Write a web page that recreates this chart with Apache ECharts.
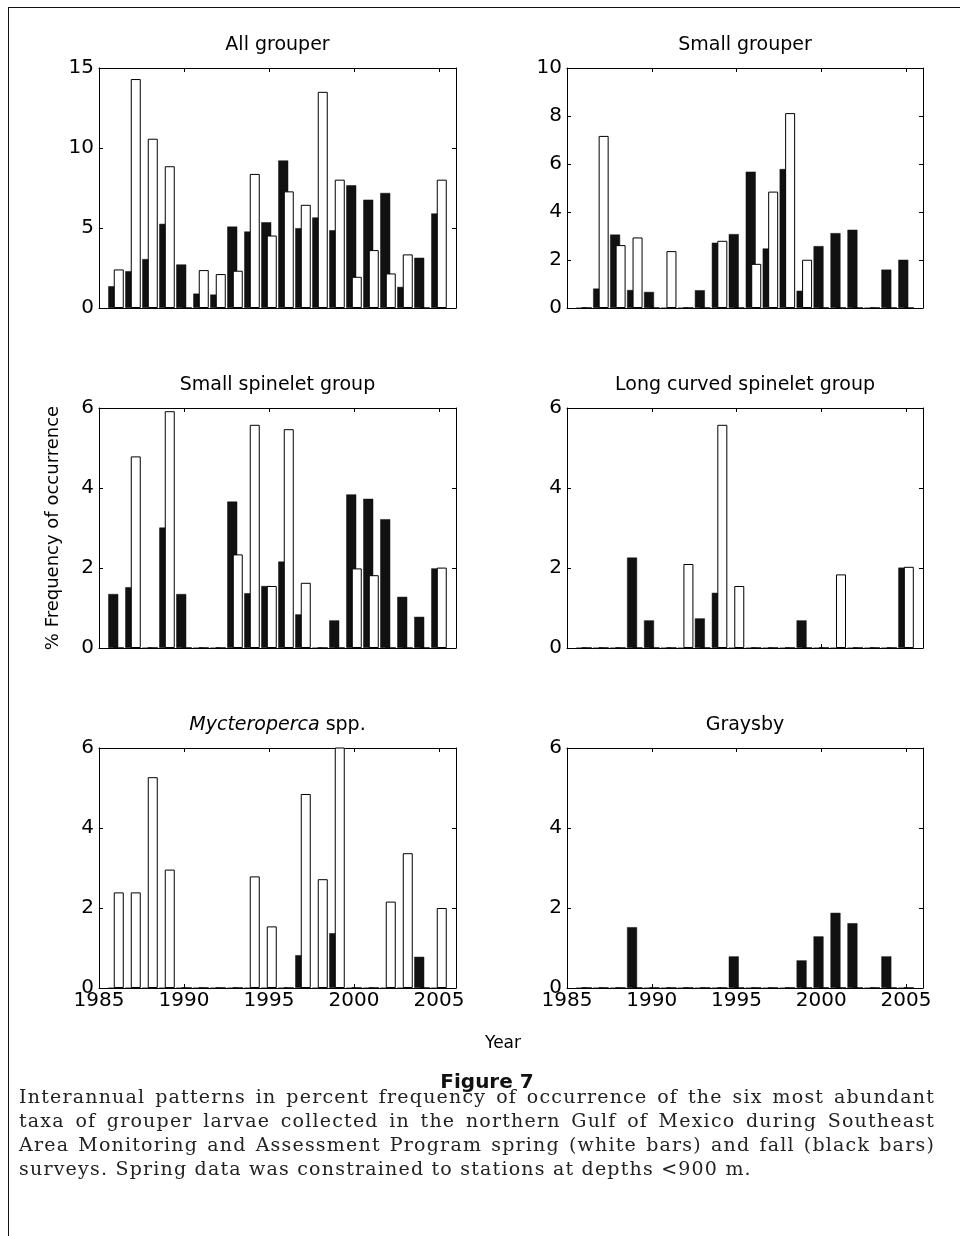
<!DOCTYPE html>
<html>
<head>
<meta charset="utf-8">
<title>Figure 7</title>
<script src="https://cdn.jsdelivr.net/npm/echarts@6.0.0/dist/echarts.min.js"></script>
<style>
  html, body { margin: 0; padding: 0; background: #fff; }
  #page { position: relative; width: 960px; height: 1236px; overflow: hidden; }
  #chart { position: absolute; left: 0; top: 0; width: 960px; height: 1236px; }
  .frame-top { position: absolute; left: 8px; top: 7px; width: 952px; border-top: 1.5px solid #111; }
  .frame-left { position: absolute; left: 8px; top: 7px; height: 1229px; border-left: 1.5px solid #111; }
  #figlabel { position: absolute; left: 14px; width: 946px; top: 1069px; text-align: center;
    font-family: 'DejaVu Sans', sans-serif; font-weight: bold; font-size: 20px; color: #111; }
  #caption { position: absolute; left: 19px; top: 1084px; width: 916px;
    font-family: 'DejaVu Serif', serif; font-size: 19px; line-height: 24px; color: #222; letter-spacing: 1.2px; }
  #caption div { text-align: justify; text-align-last: justify; white-space: nowrap; }
  #caption div.last { text-align-last: left; }
</style>
</head>
<body>
<div id="page">
  <div id="chart"></div>
  <div class="frame-top"></div>
  <div class="frame-left"></div>
  <div id="figlabel">Figure 7</div>
  <div id="caption">
    <div>Interannual patterns in percent frequency of occurrence of the six most abundant</div>
    <div>taxa of grouper larvae collected in the northern Gulf of Mexico during Southeast</div>
    <div>Area Monitoring and Assessment Program spring (white bars) and fall (black bars)</div>
    <div class="last">surveys. Spring data was constrained to stations at depths &lt;900 m.</div>
  </div>
</div>
<script>
// Survey years (axis runs 1985 to 2006)
const years = ['1985', '1986', '1987', '1988', '1989', '1990', '1991', '1992', '1993', '1994', '1995',
  '1996', '1997', '1998', '1999', '2000', '2001', '2002', '2003', '2004', '2005', '2006'];

// % frequency of occurrence, fall = black bars, spring = white bars (index 0 = 1985)
const allFall = [null, 1.36, 2.30, 3.06, 5.26, 2.72, 0.90, 0.84, 5.09, 4.78, 5.36, 9.22, 4.99, 5.66, 4.86, 7.67, 6.77, 7.19, 1.32, 3.14, 5.91];
const allSpring = [null, 2.41, 14.31, 10.58, 8.86, 0, 2.37, 2.12, 2.33, 8.38, 4.53, 7.29, 6.45, 13.51, 8.02, 1.95, 3.62, 2.16, 3.35, 0, 8.02];

const smallFall = [null, 0, 0.81, 3.06, 0.75, 0.67, 0, 0, 0.74, 2.72, 3.08, 5.68, 2.48, 5.79, 0.72, 2.58, 3.12, 3.26, 0, 1.60, 2.01];
const smallSpring = [null, 0, 7.17, 2.62, 2.94, 0, 2.37, 0, 0, 2.80, 0, 1.84, 4.85, 8.12, 2.01, 0, 0, 0, 0, 0, 0];

const spineletFall = [null, 1.35, 1.52, 0, 3.01, 1.35, 0, 0, 3.66, 1.37, 1.55, 2.16, 0.84, 0, 0.69, 3.84, 3.73, 3.22, 1.28, 0.78, 1.99];
const spineletSpring = [null, 0, 4.79, 0, 5.92, 0, 0, 0, 2.34, 5.58, 1.55, 5.47, 1.63, 0, 0, 1.99, 1.82, 0, 0, 0, 2.01];

const curvedFall = [null, 0, 0, 0, 2.26, 0.69, 0, 0, 0.74, 1.38, 0, 0, 0, 0, 0.69, 0, 0, 0, 0, 0, 2.01];
const curvedSpring = [null, 0, 0, 0, 0, 0, 0, 2.10, 0, 5.58, 1.55, 0, 0, 0, 0, 0, 1.84, 0, 0, 0, 2.03];

const mycteroFall = [null, 0, 0, 0, 0, 0, 0, 0, 0, 0, 0, 0, 0.82, 0, 1.37, 0, 0, 0, 0, 0.78, 0];
const mycteroSpring = [null, 2.39, 2.39, 5.27, 2.96, 0, 0, 0, 0, 2.79, 1.54, 0, 4.85, 2.72, 7.00, 0, 0, 2.16, 3.37, 0, 2.00];

const graysbyFall = [null, 0, 0, 0, 1.52, 0, 0, 0, 0, 0, 0.79, 0, 0, 0, 0.69, 1.29, 1.88, 1.62, 0, 0.79, 0];
const graysbySpring = [null, 0, 0, 0, 0, 0, 0, 0, 0, 0, 0, 0, 0, 0, 0, 0, 0, 0, 0, 0, 0];

const panels = [
  { title: 'All grouper', fall: allFall, spring: allSpring, max: 15, step: 5 },
  { title: 'Small grouper', fall: smallFall, spring: smallSpring, max: 10, step: 2 },
  { title: 'Small spinelet group', fall: spineletFall, spring: spineletSpring, max: 6, step: 2 },
  { title: 'Long curved spinelet group', fall: curvedFall, spring: curvedSpring, max: 6, step: 2 },
  { title: '{i|Mycteroperca} spp.', fall: mycteroFall, spring: mycteroSpring, max: 6, step: 2 },
  { title: 'Graysby', fall: graysbyFall, spring: graysbySpring, max: 6, step: 2 },
];

// layout
const colLeft = [99, 567];
const colWidth = [357, 356];
const rowTop = [68, 408, 748];
const plotHeight = 240;

const FONT = '"DejaVu Sans", sans-serif';
const everyFive = (idx, val) => Number(val) % 5 === 0;

const grids = [], xAxes = [], yAxes = [], series = [], texts = [];

panels.forEach((p, i) => {
  const col = i % 2, row = Math.floor(i / 2);
  const left = colLeft[col], width = colWidth[col], top = rowTop[row];
  grids.push({ left, top, width, height: plotHeight });

  const tick = { show: true, inside: true, length: 4, interval: everyFive, lineStyle: { color: '#000', width: 1 } };
  const line = { show: true, onZero: false, lineStyle: { color: '#000', width: 1 } };

  xAxes.push({
    gridIndex: i, type: 'category', data: years, boundaryGap: false, position: 'bottom',
    axisLine: line, axisTick: tick,
    axisLabel: { show: row === 2, interval: everyFive, color: '#000', fontSize: 20, fontFamily: FONT, margin: 3 },
    splitLine: { show: false },
  });
  xAxes.push({
    gridIndex: i, type: 'category', data: years, boundaryGap: false, position: 'top',
    axisLine: line, axisTick: tick, axisLabel: { show: false }, splitLine: { show: false },
  });

  const ytick = { show: true, inside: true, length: 4, lineStyle: { color: '#000', width: 1 } };
  yAxes.push({
    gridIndex: i, type: 'value', min: 0, max: p.max, interval: p.step, position: 'left',
    axisLine: line, axisTick: ytick,
    axisLabel: { color: '#000', fontSize: 20, fontFamily: FONT, margin: 5 },
    splitLine: { show: false },
    name: i === 2 ? '% Frequency of occurrence' : '',
    nameLocation: 'middle', nameGap: 37,
    nameTextStyle: { color: '#000', fontSize: 18, fontFamily: FONT },
  });
  yAxes.push({
    gridIndex: i, type: 'value', min: 0, max: p.max, interval: p.step, position: 'right',
    axisLine: line, axisTick: ytick, axisLabel: { show: false }, splitLine: { show: false },
  });

  series.push({
    type: 'bar', name: 'fall', xAxisIndex: 2 * i, yAxisIndex: 2 * i, data: p.fall,
    barWidth: 10, barGap: '-45%',
    itemStyle: { color: '#111', borderColor: '#111', borderWidth: 0.5 },
  });
  series.push({
    type: 'bar', name: 'spring', xAxisIndex: 2 * i, yAxisIndex: 2 * i, data: p.spring,
    barWidth: 10, barGap: '-45%',
    itemStyle: { color: '#fff', borderColor: '#000', borderWidth: 1 },
  });

  texts.push({
    type: 'text', x: left + width / 2, y: top - 23,
    style: {
      text: p.title, align: 'center', verticalAlign: 'middle', fill: '#000',
      font: '19px ' + FONT,
      rich: { i: { fontStyle: 'italic', fontSize: 19, fontFamily: FONT, fill: '#000' } },
    },
  });
});

texts.push({
  type: 'text', x: 503, y: 1044,
  style: { text: 'Year', align: 'center', verticalAlign: 'middle', fill: '#000', font: '17px ' + FONT },
});

const chart = echarts.init(document.getElementById('chart'));
chart.setOption({
  animation: false,
  backgroundColor: '#fff',
  grid: grids,
  xAxis: xAxes,
  yAxis: yAxes,
  series,
  graphic: texts,
});
</script>
</body>
</html>
